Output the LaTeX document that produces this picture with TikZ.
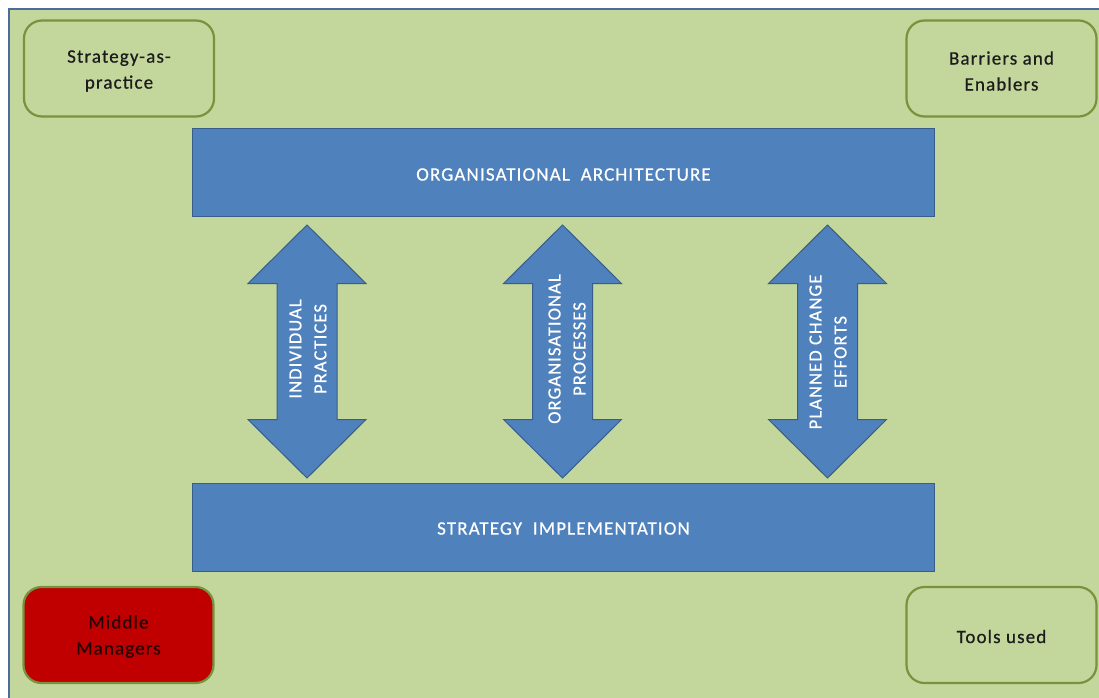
\documentclass[tikz,border=0pt]{standalone}
\usepackage{fontspec}
\setmainfont{Carlito}
\newfontfamily\widefont[LetterSpace=6,FakeBold=0.6]{Carlito}
\definecolor{pagegreen}{HTML}{C3D69B}
\definecolor{boxline}{HTML}{77933C}
\definecolor{barblue}{HTML}{4F81BD}
\definecolor{barline}{HTML}{385D8A}
\definecolor{frameline}{HTML}{4F6C98}
\definecolor{mgrred}{HTML}{C00000}
\definecolor{darktext}{HTML}{1C1C1C}
\tikzset{
  cornerbox/.style={draw=boxline, line width=2.2pt, fill=pagegreen, rounded corners=18pt,
    minimum width=190pt, minimum height=96pt},
  cornerlabel/.style={align=center, text=darktext, inner sep=0pt,
    font=\widefont\fontsize{19}{26}\selectfont},
  bar/.style={draw=barline, line width=1.4pt, fill=barblue, minimum width=742pt,
    minimum height=88pt},
  barlabel/.style={text=white, inner sep=0pt, font=\widefont\fontsize{19}{22}\selectfont},
  arrowbody/.style={draw=barline, line width=1pt, fill=barblue},
  arrowtext/.style={rotate=90, text=white, align=center, inner sep=0pt,
    font=\widefont\fontsize{18.5}{25}\selectfont},
  dblarrow/.pic={
    \path[arrowbody] (0,-126.5) -- (59,-68) -- (30,-68) -- (30,68) -- (59,68)
      -- (0,126.5) -- (-59,68) -- (-30,68) -- (-30,-68) -- (-59,-68) -- cycle;
  }
}
\begin{document}
\begin{tikzpicture}[x=1pt, y=-1pt]
  \useasboundingbox (0,0) rectangle (1099,697);
  \clip (0,0) rectangle (1099,697);
  % background panel
  \fill[white] (0,0) rectangle (1099,697);
  \draw[frameline, line width=2pt, fill=pagegreen] (8.5,9) rectangle (1110,710);

  % corner boxes
  \node[cornerbox] (sap) at (119,68.5) {};
  \node[cornerbox] (be) at (1001.5,68.5) {};
  \node[cornerbox, fill=mgrred] (mm) at (118.5,635) {};
  \node[cornerbox] (tu) at (1001.5,635) {};
  \node[cornerlabel] at ([yshift=-2.5pt]sap.center) {Strategy-as-\\practice};
  \node[cornerlabel] at ([yshift=-2.5pt]be.center) {Barriers and\\Enablers};
  \node[cornerlabel, text={black!80!mgrred}] at ([yshift=-1.5pt]mm.center) {Middle\\Managers};
  \node[cornerlabel] at ([yshift=-1.5pt]tu.center) {Tools used};

  % architecture and implementation bars
  \node[bar] (oa) at (563.5,172.5) {};
  \node[bar] (si) at (563.5,527.5) {};
  \node[barlabel] at ([yshift=-2pt]oa.center) {ORGANISATIONAL\ \ ARCHITECTURE};
  \node[barlabel] at ([yshift=-1pt]si.center) {STRATEGY\ \ IMPLEMENTATION};

  % linking double arrows
  \pic at (307,351.5) {dblarrow};
  \pic at (562.5,351.5) {dblarrow};
  \pic at (827.5,351.5) {dblarrow};
  \node[arrowtext] (ip) at (308,349) {INDIVIDUAL\\PRACTICES};
  \node[arrowtext] (op) at (567,349) {ORGANISATIONAL\\PROCESSES};
  \node[arrowtext] (pc) at (828,352) {PLANNED CHANGE\\EFFORTS};
\end{tikzpicture}
\end{document}
